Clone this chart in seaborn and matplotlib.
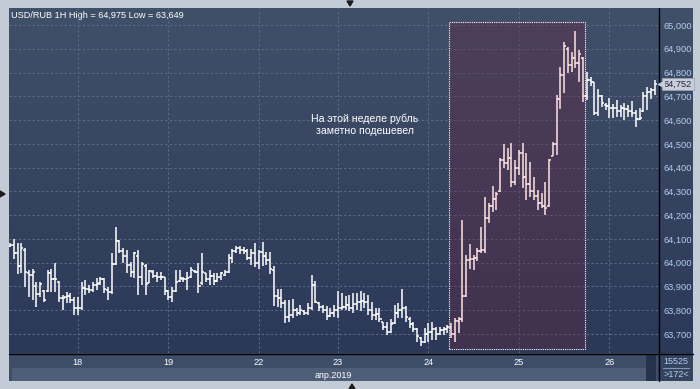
import numpy as np
import pandas as pd
import matplotlib
matplotlib.use("Agg")
import matplotlib.pyplot as plt
import seaborn as sns
from matplotlib.patches import Rectangle
from matplotlib.colors import LinearSegmentedColormap
from matplotlib.transforms import blended_transform_factory

# ---------------- data ----------------
opens = [64.070, 64.075, 64.040, 63.985, 64.055, 63.955, 63.950, 63.900, 63.870, 63.880,
         63.880, 63.955, 63.930, 63.920, 63.850, 63.855, 63.860, 63.845, 63.810, 63.810,
         63.895, 63.890, 63.885, 63.905, 63.915, 63.930, 63.885, 63.875, 63.995, 64.090,
         64.050, 64.030, 63.990, 63.960, 64.030, 63.940, 63.985, 63.915, 63.960, 63.945,
         63.940, 63.940, 63.880, 63.855, 63.880, 63.925, 63.930, 63.930, 63.940, 63.965,
         63.960, 63.915, 63.955, 63.930, 63.945, 63.925, 63.940, 63.950, 63.960, 64.020,
         64.050, 64.060, 64.055, 64.050, 64.020, 64.040, 64.000, 64.045, 64.030, 64.010,
         63.970, 63.860, 63.850, 63.830, 63.770, 63.780, 63.800, 63.790, 63.795, 63.790,
         63.810, 63.905, 63.830, 63.815, 63.800, 63.775, 63.790, 63.800, 63.810, 63.815,
         63.820, 63.810, 63.825, 63.835, 63.840, 63.835, 63.800, 63.780, 63.785, 63.750,
         63.730, 63.710, 63.745, 63.790, 63.800, 63.810, 63.765, 63.740, 63.720, 63.685,
         63.665, 63.700, 63.710, 63.720, 63.700, 63.715, 63.720, 63.730, 63.700, 63.755,
         63.765, 63.860, 64.010, 64.015, 64.020, 64.050, 64.055, 64.190, 64.240, 64.270,
         64.300, 64.430, 64.420, 64.440, 64.340, 64.400, 64.460, 64.360, 64.330, 64.300,
         64.280, 64.250, 64.240, 64.240, 64.450, 64.500, 64.690, 64.790, 64.900, 64.830,
         64.860, 64.840, 64.860, 64.700, 64.770, 64.760, 64.630, 64.700, 64.665, 64.660,
         64.650, 64.650, 64.640, 64.650, 64.645, 64.640, 64.630, 64.605, 64.640, 64.700,
         64.720, 64.725]
highs = [64.084, 64.100, 64.082, 64.084, 64.060, 63.969, 63.972, 63.920, 63.920, 63.885,
         63.969, 63.972, 64.000, 63.924, 63.864, 63.878, 63.871, 63.857, 63.857, 63.920,
         63.927, 63.906, 63.920, 63.934, 63.941, 63.934, 63.899, 64.039, 64.152, 64.096,
         64.060, 64.053, 64.004, 64.046, 64.053, 64.004, 63.995, 63.969, 63.969, 63.962,
         63.962, 63.941, 63.885, 63.899, 63.969, 63.969, 63.941, 63.962, 63.983, 63.969,
         63.997, 64.039, 63.958, 63.969, 63.955, 63.955, 63.962, 63.970, 64.035, 64.058,
         64.071, 64.070, 64.068, 64.056, 64.057, 64.082, 64.054, 64.085, 64.047, 64.043,
         63.984, 63.888, 63.888, 63.844, 63.844, 63.848, 63.809, 63.822, 63.801, 63.830,
         63.949, 63.925, 63.835, 63.823, 63.816, 63.808, 63.823, 63.879, 63.872, 63.858,
         63.865, 63.872, 63.872, 63.879, 63.874, 63.865, 63.836, 63.808, 63.808, 63.752,
         63.752, 63.762, 63.822, 63.829, 63.889, 63.818, 63.770, 63.752, 63.724, 63.689,
         63.724, 63.745, 63.752, 63.731, 63.731, 63.728, 63.738, 63.745, 63.766, 63.773,
         64.180, 64.033, 64.079, 64.033, 64.061, 64.149, 64.278, 64.250, 64.323, 64.299,
         64.439, 64.498, 64.481, 64.502, 64.432, 64.474, 64.502, 64.460, 64.425, 64.362,
         64.306, 64.292, 64.341, 64.436, 64.509, 64.705, 64.825, 64.927, 64.906, 64.888,
         64.975, 64.895, 64.867, 64.804, 64.783, 64.762, 64.729, 64.705, 64.670, 64.691,
         64.668, 64.684, 64.663, 64.670, 64.663, 64.682, 64.642, 64.649, 64.720, 64.738,
         64.734, 64.769]
lows = [64.067, 64.014, 63.951, 63.955, 63.899, 63.857, 63.843, 63.815, 63.857, 63.836,
        63.878, 63.878, 63.878, 63.836, 63.801, 63.829, 63.829, 63.780, 63.780, 63.801,
        63.864, 63.871, 63.878, 63.885, 63.906, 63.871, 63.843, 63.870, 63.990, 64.040,
        63.997, 63.955, 63.941, 63.934, 63.864, 63.906, 63.864, 63.913, 63.934, 63.920,
        63.927, 63.864, 63.843, 63.836, 63.878, 63.920, 63.920, 63.885, 63.934, 63.955,
        63.871, 63.906, 63.920, 63.906, 63.906, 63.920, 63.927, 63.945, 63.955, 63.998,
        64.040, 64.038, 64.037, 64.012, 63.991, 63.981, 63.973, 63.984, 63.991, 63.953,
        63.818, 63.813, 63.809, 63.745, 63.752, 63.766, 63.776, 63.780, 63.780, 63.780,
        63.802, 63.830, 63.795, 63.790, 63.760, 63.773, 63.773, 63.767, 63.802, 63.802,
        63.795, 63.788, 63.802, 63.795, 63.809, 63.780, 63.759, 63.759, 63.752, 63.717,
        63.696, 63.706, 63.740, 63.766, 63.766, 63.752, 63.724, 63.710, 63.668, 63.649,
        63.661, 63.668, 63.675, 63.675, 63.696, 63.696, 63.703, 63.682, 63.668, 63.706,
        63.752, 63.854, 63.972, 63.969, 64.005, 64.040, 64.040, 64.166, 64.215, 64.222,
        64.299, 64.397, 64.390, 64.320, 64.327, 64.369, 64.313, 64.264, 64.278, 64.264,
        64.222, 64.229, 64.200, 64.236, 64.449, 64.453, 64.645, 64.715, 64.797, 64.804,
        64.818, 64.762, 64.677, 64.684, 64.743, 64.621, 64.617, 64.656, 64.642, 64.607,
        64.607, 64.614, 64.614, 64.600, 64.614, 64.614, 64.570, 64.600, 64.635, 64.642,
        64.690, 64.706]
closes = [64.075, 64.040, 63.985, 64.060, 63.960, 63.950, 63.960, 63.870, 63.910, 63.845,
          63.955, 63.930, 63.930, 63.850, 63.850, 63.860, 63.845, 63.810, 63.810, 63.895,
          63.890, 63.885, 63.905, 63.910, 63.930, 63.890, 63.875, 63.995, 64.090, 64.050,
          64.030, 63.990, 63.960, 64.040, 63.940, 63.995, 63.910, 63.965, 63.945, 63.940,
          63.940, 63.880, 63.855, 63.880, 63.920, 63.935, 63.930, 63.935, 63.970, 63.960,
          63.900, 63.960, 63.930, 63.945, 63.925, 63.940, 63.955, 63.960, 64.020, 64.050,
          64.060, 64.055, 64.050, 64.020, 64.040, 64.000, 64.045, 64.030, 64.010, 63.975,
          63.860, 63.850, 63.830, 63.770, 63.780, 63.800, 63.790, 63.800, 63.790, 63.810,
          63.905, 63.835, 63.815, 63.800, 63.775, 63.790, 63.800, 63.810, 63.815, 63.820,
          63.810, 63.825, 63.835, 63.840, 63.835, 63.800, 63.780, 63.785, 63.765, 63.730,
          63.710, 63.740, 63.790, 63.800, 63.810, 63.770, 63.740, 63.720, 63.690, 63.665,
          63.700, 63.710, 63.720, 63.700, 63.715, 63.720, 63.730, 63.700, 63.755, 63.765,
          63.860, 64.010, 64.015, 64.020, 64.050, 64.055, 64.190, 64.240, 64.270, 64.290,
          64.430, 64.420, 64.440, 64.340, 64.400, 64.460, 64.360, 64.330, 64.300, 64.280,
          64.250, 64.240, 64.230, 64.430, 64.500, 64.690, 64.790, 64.910, 64.830, 64.860,
          64.840, 64.880, 64.700, 64.770, 64.760, 64.630, 64.700, 64.670, 64.660, 64.650,
          64.650, 64.640, 64.650, 64.645, 64.640, 64.630, 64.605, 64.610, 64.700, 64.720,
          64.725, 64.752]

day_ticks = [18, 42, 66, 87, 111, 135, 159]
day_labels = ["18", "19", "22", "23", "24", "25", "26"]
y_ticks = [63.7, 63.8, 63.9, 64.0, 64.1, 64.2, 64.3, 64.4, 64.5, 64.6, 64.7, 64.8, 64.9, 65.0]
title_text = "USD/RUB 1H High = 64,975 Low = 63,649"
note_text = "На этой неделе рубль\nзаметно подешевел"
note_pos = (94.2, 64.579)
month_text = "апр.2019"
shade_bars = (116.4, 152.65)
shade_vals = (63.637, 65.014)
bars_total = "15525"
bars_visible = ">172<"

df = pd.DataFrame({"open": opens, "high": highs, "low": lows, "close": closes})
df["idx"] = np.arange(len(df))
df["inside"] = (df["idx"] > shade_bars[0]) & (df["idx"] < shade_bars[1])

# ---------------- style ----------------
sns.set_theme(style="dark")
plt.rcParams["font.family"] = ["Liberation Sans", "DejaVu Sans"]

W, H = 700, 389
fig = plt.figure(figsize=(7, 3.89), dpi=100)
fig.patch.set_facecolor("#c3cbd7")

# background decoration axes in pixel coordinates
bg = fig.add_axes([0, 0, 1, 1])
bg.set_xlim(0, W)
bg.set_ylim(H, 0)
bg.axis("off")
cmap = LinearSegmentedColormap.from_list("bgc", ["#415069", "#2b3858"])
bg.imshow(np.linspace(0, 1, 256)[:, None], cmap=cmap, extent=[9, 693, 353, 8],
          aspect="auto", zorder=0)
bg.add_patch(Rectangle((9, 353), 649, 15, fc="#3e4d68", ec="none", zorder=1))
bg.add_patch(Rectangle((9, 368), 649, 13, fc="#3e4d68", ec="none", zorder=1))
bg.add_patch(Rectangle((12, 368), 634, 13, fc="#4e5e79", ec="none", zorder=1))
bg.add_patch(Rectangle((646, 355), 10, 26, fc="#27334b", ec="none", zorder=1))
bg.add_patch(Rectangle((658, 353), 35, 28, fc="#34435e", ec="none", zorder=1))
bg.plot([9, 693], [353.5, 353.5], color="black", lw=1.0, zorder=3)
bg.plot([658.5, 658.5], [8, 381], color="black", lw=1.0, zorder=3)
bg.plot([663, 689], [368, 368], color="#8797b2", lw=0.8, zorder=3)
bg.text(676, 361.5, bars_total, color="#b3cdf0", fontsize=6.5, ha="center", va="center", zorder=4)
bg.text(676, 374.5, bars_visible, color="#b3cdf0", fontsize=6.5, ha="center", va="center", zorder=4)
bg.text(333, 375, month_text, color="white", fontsize=6.5, ha="center", va="center", zorder=4)
bg.text(11, 15, title_text, color="white", fontsize=6.6, ha="left", va="center", zorder=4)
bg.fill([347, 353, 350], [1, 1, 6], color="#1b1b1b", zorder=4)
bg.fill([0, 0, 5], [191, 197, 194], color="#1b1b1b", zorder=4)
bg.fill([349, 355, 352], [389, 389, 384], color="#1b1b1b", zorder=4)

# main chart axes
ax = fig.add_axes([9 / W, (H - 353) / H, (658 - 9) / W, (353 - 8) / H])
ax.patch.set_alpha(0)
ax.set_xlim(-0.27, 171.9)
ax.set_ylim(63.620, 65.0715)
for s in ax.spines.values():
    s.set_visible(False)

ax.set_xticks(day_ticks)
ax.set_xticklabels(day_labels)
ax.set_yticks(y_ticks)
ax.set_yticklabels([f"{v:.3f}".replace(".", ",") for v in y_ticks])
ax.yaxis.tick_right()
ax.tick_params(axis="x", length=0, pad=3.6, labelsize=6.6, labelcolor="white")
ax.tick_params(axis="y", length=0, pad=3.6, labelsize=6.7, labelcolor="#b3cdf0")
ax.grid(True, color="#5a6a86", linestyle=(0, (2.2, 2.2)), lw=0.75)
ax.set_axisbelow(True)

# highlighted week
ax.add_patch(Rectangle((shade_bars[0], shade_vals[0]), shade_bars[1] - shade_bars[0],
                       shade_vals[1] - shade_vals[0], fc="#612843", alpha=0.4,
                       ec="none", zorder=1))
ax.add_patch(Rectangle((shade_bars[0], shade_vals[0]), shade_bars[1] - shade_bars[0],
                       shade_vals[1] - shade_vals[0], fill=False, ec="white",
                       lw=0.8, ls=(0, (1, 1)), zorder=2))

# OHLC bars
colors = np.where(df["inside"], "#ffe2e2", "#ffffff")
ax.vlines(df["idx"], df["low"], df["high"], colors=colors, lw=1.1, zorder=3)
ax.hlines(df["open"], df["idx"] - 0.55, df["idx"], colors=colors, lw=1.1, zorder=3)
ax.hlines(df["close"], df["idx"], df["idx"] + 0.55, colors=colors, lw=1.1, zorder=3)

ax.text(note_pos[0], note_pos[1], note_text, color="white", fontsize=7.6,
        ha="center", va="center", linespacing=1.3, zorder=4)

# current price label
last = closes[-1]
trans = blended_transform_factory(ax.transAxes, ax.transData)
ax.text(1.0 + 6 / 649, last, f"{last:.3f}".replace(".", ","), transform=trans,
        color="#1b2642", fontsize=6.7, ha="left", va="center", clip_on=False, zorder=5,
        bbox=dict(boxstyle="square,pad=0.2", fc="#c9ced8", ec="#9aa3b3", lw=0.5))
ax.plot([1.0 + 2.5 / 649], [last], marker="<", ms=4, color="#c9ced8",
        transform=trans, clip_on=False, zorder=5)

fig.savefig("out.png", dpi=100, facecolor=fig.get_facecolor())
